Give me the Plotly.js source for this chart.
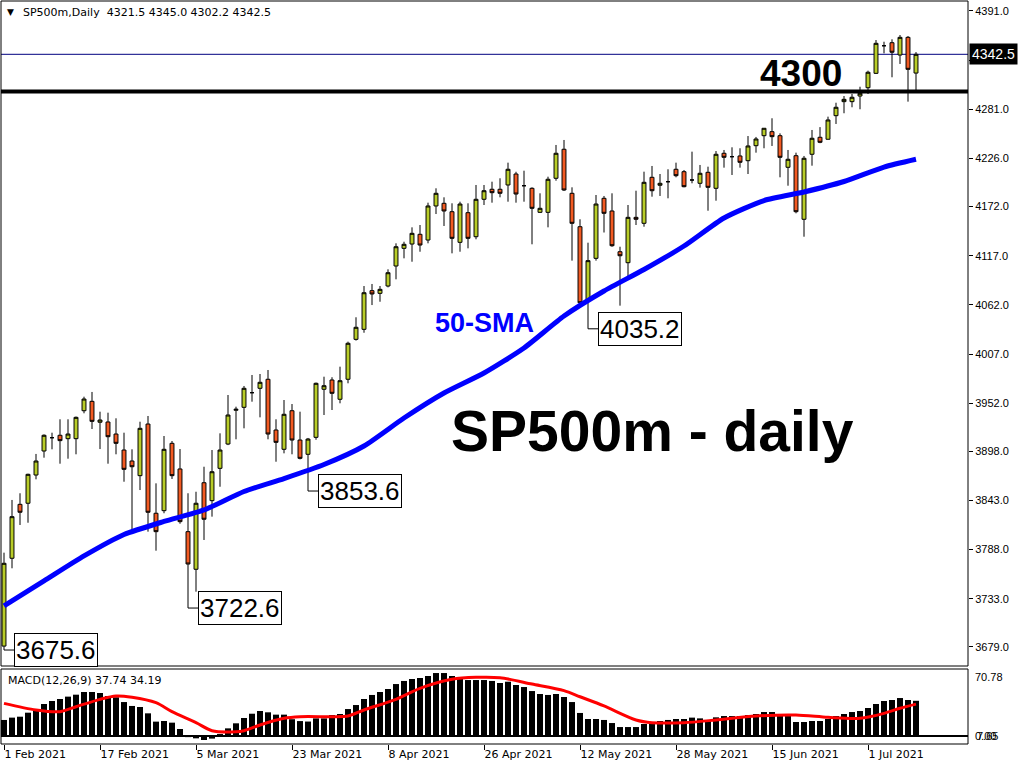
<!DOCTYPE html>
<html><head><meta charset="utf-8">
<script src="https://cdn.plot.ly/plotly-3.0.1.min.js"></script>
<style>html,body{margin:0;padding:0;background:#fff;overflow:hidden}#chart{width:1024px;height:768px}</style>
</head><body><div id="chart"></div>
<script>
// ---- data ----
const openP = [3680.0,3778.3,3838.7,3839.9,3871.5,3898.4,3913.3,3916.0,3912.2,3912.2,3943.5,3954.0,3930.6,3930.9,3917.4,3899.5,3887.2,3870.8,3928.6,3828.7,
3831.6,3907.0,3878.3,3808.1,3766.0,3862.9,3842.8,3879.0,3906.2,3944.0,3947.3,3963.7,3968.6,3978.7,3921.9,3900.3,3943.5,3910.7,3894.7,3913.7,
3967.5,3977.9,3956.3,3978.7,4023.4,4034.6,4077.9,4074.9,4083.1,4105.5,4125.3,4130.1,4141.0,4134.6,4172.7,4175.7,4166.3,4132.0,4165.2,4138.3,
4180.2,4191.4,4191.4,4196.2,4208.5,4195.4,4192.5,4165.6,4165.6,4203.7,4236.2,4186.9,4149.5,4066.7,4114.1,4181.3,4167.1,4121.5,4109.2,4160.0,
4153.3,4204.8,4195.9,4199.9,4213.8,4211.1,4201.8,4198.1,4210.4,4192.5,4231.7,4227.9,4228.7,4223.4,4240.2,4251.4,4255.9,4251.4,4216.0,4229.0,
4157.8,4230.6,4249.6,4247.4,4273.8,4289.5,4289.5,4295.8,4305.1,4321.2,4352.1,4355.5,4341.7,4361.5,4321.5];
const highP = [3784.6,3843.6,3851.1,3873.0,3895.1,3917.0,3918.9,3933.9,3933.9,3937.0,3959.2,3964.5,3942.4,3941.3,3935.0,3918.9,3900.3,3931.2,3937.6,3862.2,
3915.2,3909.6,3900.6,3851.1,3852.8,3880.8,3899.5,3918.2,3961.1,3948.0,3971.2,3983.5,3984.6,3989.1,3933.9,3955.5,3951.0,3942.4,3913.0,3975.0,
3981.6,3981.0,3992.8,4020.8,4048.1,4083.1,4085.4,4083.1,4101.8,4130.9,4132.7,4148.8,4151.4,4176.4,4192.5,4182.4,4175.7,4177.5,4175.7,4196.2,
4196.2,4199.9,4203.7,4221.2,4211.0,4212.2,4193.6,4186.9,4205.5,4241.0,4246.6,4193.6,4157.8,4131.6,4185.0,4183.9,4186.9,4127.1,4173.8,4189.8,
4211.1,4217.5,4208.5,4213.8,4221.2,4213.0,4233.5,4218.6,4216.7,4234.2,4235.4,4238.4,4237.3,4251.0,4250.0,4260.0,4270.9,4254.0,4235.4,4232.4,
4228.7,4257.8,4261.0,4272.7,4288.3,4295.8,4298.1,4306.2,4324.2,4358.5,4356.6,4359.3,4364.1,4363.0,4345.0];
const lowP = [3675.6,3767.1,3815.6,3818.1,3866.7,3890.9,3900.3,3884.2,3889.8,3894.7,3940.6,3923.0,3900.6,3884.2,3894.7,3864.0,3808.1,3854.7,3808.1,3786.8,
3828.7,3867.1,3817.0,3722.6,3740.9,3798.8,3824.9,3858.4,3905.0,3911.5,3923.8,3953.6,3936.1,3911.5,3886.4,3895.8,3894.7,3889.0,3853.6,3911.0,
3938.7,3944.3,3951.8,3974.2,4022.0,4030.8,4061.8,4065.5,4081.6,4090.6,4114.1,4110.3,4121.5,4130.9,4163.7,4150.3,4119.7,4121.5,4125.3,4135.4,
4173.8,4176.4,4182.4,4177.5,4176.4,4177.5,4129.8,4165.0,4148.8,4201.0,4189.5,4111.5,4064.0,4035.2,4111.5,4143.0,4127.0,4061.1,4092.9,4151.4,
4149.5,4183.1,4183.9,4181.3,4204.8,4193.6,4198.1,4193.2,4167.4,4178.6,4215.6,4207.4,4215.6,4208.5,4232.4,4237.3,4239.9,4204.8,4195.4,4164.5,
4138.3,4217.8,4243.0,4247.0,4264.5,4276.5,4283.2,4281.0,4298.1,4320.5,4343.6,4316.8,4331.7,4289.5,4302.2];
const closeP = [3772.7,3824.9,3829.8,3872.3,3887.2,3916.0,3913.3,3910.0,3917.4,3936.1,3956.6,3931.6,3933.1,3914.4,3907.0,3877.9,3880.8,3923.8,3829.8,3808.1,
3900.3,3870.8,3819.3,3771.9,3839.9,3822.0,3875.2,3899.5,3938.7,3945.1,3968.6,3963.7,3975.3,3917.4,3908.1,3939.5,3910.7,3890.2,3911.8,3974.2,
3971.5,3963.0,3977.1,4019.0,4036.9,4075.6,4074.2,4079.4,4098.0,4127.1,4129.8,4142.1,4129.0,4172.7,4186.9,4167.1,4136.5,4174.9,4136.5,4180.2,
4189.8,4187.6,4186.9,4213.8,4186.1,4195.4,4170.1,4170.1,4202.6,4231.7,4190.6,4153.3,4064.4,4111.5,4174.9,4164.5,4128.2,4117.0,4160.0,4157.8,
4199.2,4189.8,4198.1,4199.9,4206.6,4194.3,4201.8,4209.3,4193.6,4230.6,4227.2,4227.9,4221.6,4239.9,4247.7,4259.7,4250.3,4227.2,4225.0,4166.3,
4226.1,4248.5,4244.0,4269.0,4283.2,4292.1,4294.4,4298.9,4322.4,4354.8,4352.1,4344.8,4361.5,4325.7,4342.5];

const smaIdx = [0,5,10,15,20,25,30,35,40,45,50,55,60,65,70,75,80,85,90,95,100,105,110,114];
const smaVal = [3724.9,3752.9,3780.9,3804.9,3819.5,3832.4,3853.1,3867.6,3883.3,3904.0,3935.3,3963.3,3985.7,4013.7,4049.5,4077.5,4101.6,4127.9,4159.3,4178.8,4188.4,4200.1,4216.3,4225.0];

const macdHist = [17.2,19.7,20.7,25.0,28.6,34.3,37.5,39.7,42.2,44.3,47.2,47.2,46.1,42.9,41.5,36.4,32.2,31.1,24.3,15.4,
16.1,14.3,7.5,-1.2,-2.5,-4.3,-2.8,2.1,8.2,13.6,19.3,23.9,26.8,25.4,22.9,22.9,18.0,16.0,15.5,18.9,
18.9,22.5,23.6,28.9,33.2,39.7,44.0,47.2,50.4,55.7,59.0,61.1,62.2,64.3,67.5,67.5,64.3,63.2,60.0,60.0,
60.0,59.0,56.8,58.2,54.7,52.5,48.2,45.0,44.0,45.0,41.8,36.4,24.7,18.2,18.2,17.2,13.9,9.6,9.6,9.6,
12.9,13.6,16.1,17.2,18.2,18.2,19.7,18.9,16.1,20.0,21.4,21.4,21.4,22.5,23.6,25.7,25.7,22.5,22.5,15.0,
15.0,16.1,16.1,18.2,21.4,23.6,25.7,26.8,30.0,34.3,37.5,38.6,40.7,38.6,37.74];
const sigIdx = [0,4,7,9,12,14,16,19,21,24,26,29,30,32,35,37,41,43,45,49,52,56,59,62,66,70,72,75,79,81,85,89,94,99,103,107,110,112,114];
const sigVal = [35.0,27.9,26.1,31.4,39.3,42.9,41.5,35.7,26.1,14.3,5.7,4.6,5.7,11.8,19.0,20.7,20.7,21.4,27.9,39.3,51.1,60.8,62.9,62.5,55.7,48.6,42.1,32.2,17.2,14.3,14.3,17.2,21.4,22.5,20.0,19.0,24.3,29.7,34.19];

const dateTickIdx = [0,12,24,36,48,60,72,84,96,108];
const dateTickText = ['1 Feb 2021','17 Feb 2021','5 Mar 2021','23 Mar 2021','8 Apr 2021','26 Apr 2021','12 May 2021','28 May 2021','15 Jun 2021','1 Jul 2021'];
const priceTicks = [3679,3733,3788,3843,3898,3952,4007,4062,4117,4172,4226,4281,4336,4391];

const lastPrice = 4342.5;
const level4300 = 4301;
const lowLabels = [{i:0, v:3675.6},{i:23, v:3722.6},{i:38, v:3853.6},{i:73, v:4035.2}];

// ---- build ----
const idx = openP.map((_, i) => i);
const ML = 1, MR = 56, MT = 1, MB = 24, W = 1024, H = 768;
const PW = W - ML - MR, PH = H - MT - MB;
const px = p => (p - ML) / PW;
const py = p => (H - MB - p) / PH;
const mainDom = [py(666), 1];
const macdDom = [0, py(669)];

const traces = [
  {type:'candlestick', x: idx, open: openP, high: highP, low: lowP, close: closeP,
   xaxis:'x', yaxis:'y',
   increasing:{line:{color:'#000000', width:1}, fillcolor:'#b8cc28'},
   decreasing:{line:{color:'#000000', width:1}, fillcolor:'#f25a22'},
   whiskerwidth:0, hoverinfo:'skip', showlegend:false},
  {type:'scatter', mode:'lines', x: smaIdx, y: smaVal, xaxis:'x', yaxis:'y',
   line:{color:'#0000ff', width:5, shape:'spline', smoothing:0.6}, hoverinfo:'skip', showlegend:false},
  {type:'bar', x: idx, y: macdHist, xaxis:'x', yaxis:'y2', width:0.75,
   marker:{color:'#000000', line:{width:0}}, hoverinfo:'skip', showlegend:false},
  {type:'scatter', mode:'lines', x: sigIdx, y: sigVal, xaxis:'x', yaxis:'y2',
   line:{color:'#ff0000', width:3, shape:'spline', smoothing:0.8}, hoverinfo:'skip', showlegend:false}
];

const shapes = [
  {type:'line', xref:'paper', yref:'y', x0:0, x1:1, y0:lastPrice, y1:lastPrice, line:{color:'#000080', width:1}, layer:'below'},
  {type:'line', xref:'paper', yref:'y', x0:0, x1:1, y0:level4300, y1:level4300, line:{color:'#000000', width:4}},
  {type:'line', xref:'paper', yref:'y2', x0:0, x1:1, y0:0, y1:0, line:{color:'#000000', width:2}, layer:'below'},
  {type:'rect', xref:'paper', yref:'paper', x0:0, x1:1, y0:mainDom[0], y1:mainDom[1], line:{color:'#000000', width:1}},
  {type:'rect', xref:'paper', yref:'paper', x0:0, x1:1, y0:macdDom[0], y1:macdDom[1], line:{color:'#000000', width:1}}
];
lowLabels.forEach(l => {
  shapes.push({type:'line', xref:'x', yref:'y', xsizemode:'pixel', xanchor:l.i, x0:0, x1:10, y0:l.v, y1:l.v, line:{color:'#000000', width:1}});
});

const annotations = [
  {xref:'paper', yref:'paper', x:px(5), y:py(12), xanchor:'left', yanchor:'middle', showarrow:false,
   text:'\u25BC', font:{family:'DejaVu Sans', size:9, color:'#000000'}},
  {xref:'paper', yref:'paper', x:px(21), y:py(12), xanchor:'left', yanchor:'middle', showarrow:false,
   text:'SP500m,Daily  4321.5 4345.0 4302.2 4342.5', font:{family:'DejaVu Sans', size:11, color:'#000000'}},
  {xref:'paper', yref:'paper', x:px(6), y:py(680), xanchor:'left', yanchor:'middle', showarrow:false,
   text:'MACD(12,26,9) 37.74 34.19', font:{family:'DejaVu Sans', size:11, color:'#000000'}},
  {xref:'paper', yref:'paper', x:px(801), y:py(74), xanchor:'center', yanchor:'middle', showarrow:false,
   text:'<b>4300</b>', font:{family:'Liberation Sans', size:37, color:'#000000'}},
  {xref:'paper', yref:'paper', x:px(484), y:py(323), xanchor:'center', yanchor:'middle', showarrow:false,
   text:'<b>50-SMA</b>', font:{family:'Liberation Sans', size:27, color:'#0000ff'}},
  {xref:'paper', yref:'paper', x:px(652), y:py(431), xanchor:'center', yanchor:'middle', showarrow:false,
   text:'<b>SP500m - daily</b>', font:{family:'Liberation Sans', size:57, color:'#000000'}},
  {xref:'paper', yref:'y', x:1, y:lastPrice, xanchor:'left', yanchor:'middle', xshift:1, showarrow:false,
   text:'4342.5', bgcolor:'#000000', borderpad:2, font:{family:'Liberation Sans', size:14, color:'#ffffff'}},
  {xref:'paper', yref:'paper', x:1, y:py(677), xanchor:'left', yanchor:'middle', xshift:5, showarrow:false,
   text:'70.78', font:{family:'Liberation Sans', size:11, color:'#000000'}},
  {xref:'paper', yref:'y2', x:1, y:0, xanchor:'left', yanchor:'middle', xshift:5, showarrow:false,
   text:'0.00', font:{family:'Liberation Sans', size:11, color:'#000000'}},
  {xref:'paper', yref:'y2', x:1, y:0, xanchor:'left', yanchor:'middle', xshift:7, showarrow:false,
   text:'7.65', font:{family:'Liberation Sans', size:11, color:'#000000'}}
];
lowLabels.forEach(l => {
  annotations.push({xref:'x', yref:'y', x:l.i, y:l.v, xanchor:'left', yanchor:'middle', xshift:10, showarrow:false,
    text: l.v.toFixed(1), bgcolor:'#ffffff', bordercolor:'#000000', borderwidth:1, borderpad:1,
    font:{family:'Liberation Sans', size:26, color:'#000000'}});
});

const layout = {
  width:W, height:H, margin:{l:ML, r:MR, t:MT, b:MB, pad:0},
  paper_bgcolor:'#ffffff', plot_bgcolor:'#ffffff', showlegend:false, boxgap:0.3,
  xaxis:{range:[(ML - 4)/8, (W - MR - 4)/8], anchor:'y2', showgrid:false, zeroline:false, showline:false,
    tickmode:'array', tickvals:dateTickIdx, ticktext:dateTickText, ticks:'outside', ticklen:5, tickcolor:'#000000',
    ticklabelposition:'outside right', tickfont:{family:'DejaVu Sans', size:11, color:'#000000'},
    rangeslider:{visible:false}, fixedrange:true},
  yaxis:{domain:mainDom, range:[4403.3 - 1.1195*666, 4403.3 - 1.1195*1], side:'right', anchor:'x',
    showgrid:false, zeroline:false, showline:false, tickmode:'array', tickvals:priceTicks,
    ticktext:priceTicks.map(v => v.toFixed(1)), ticks:'outside', ticklen:4, tickcolor:'#000000',
    tickfont:{family:'Liberation Sans', size:11, color:'#000000'}, fixedrange:true},
  yaxis2:{domain:macdDom, range:[(736-744)*1.072, (736-669)*1.072], side:'right', anchor:'x',
    showgrid:false, zeroline:false, showline:false, showticklabels:false, ticks:'', fixedrange:true},
  shapes: shapes, annotations: annotations
};

Plotly.newPlot('chart', traces, layout, {displayModeBar:false, staticPlot:true});
</script>
</body></html>
